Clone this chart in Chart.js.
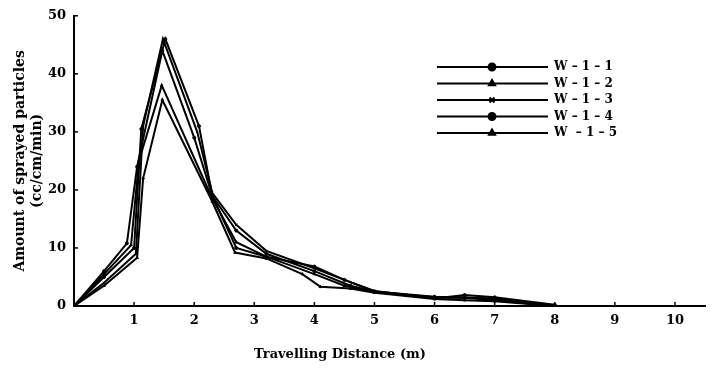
<!DOCTYPE html>
<html>
<head>
<meta charset="utf-8">
<script src="https://cdn.jsdelivr.net/npm/chart.js@4"></script>
<style>
html,body{margin:0;padding:0;background:#fff;}
#wrap{width:718px;height:368px;}
</style>
</head>
<body>
<div id="wrap"><canvas id="c" width="718" height="368"></canvas></div>
<script>
// ---- data ----
const seriesLabels = ['W \u2013 1 \u2013 1', 'W \u2013 1 \u2013 2', 'W \u2013 1 \u2013 3', 'W \u2013 1 \u2013 4', 'W  \u2013 1 \u2013 5'];
const seriesMarkers = ['circle', 'triangle', 'crossRot', 'circle', 'triangle'];

const w11x = [0, 0.5, 1.0, 1.12, 1.52, 2.08, 2.3, 2.7, 3.2, 4.0, 4.6, 5.0, 6.0, 6.5, 7.0, 8.0];
const w11y = [0, 5, 10, 30.5, 46, 31, 19, 13, 9, 6, 3.5, 2.5, 1.3, 1.9, 1.5, 0.2];

const w12x = [0, 0.5, 0.95, 1.08, 1.46, 2.28, 2.7, 3.2, 4.0, 4.5, 5.0, 6.0, 6.5, 7.0, 8.0];
const w12y = [0, 5.5, 10.5, 25, 38, 19, 11, 8.5, 5.5, 3.5, 2.4, 1.5, 1.5, 1.2, 0];

const w13x = [0, 0.5, 1.03, 1.15, 1.48, 2.05, 2.3, 2.7, 3.2, 4.0, 4.5, 5.0, 6.0, 6.5, 7.0, 8.0];
const w13y = [0, 4, 9, 31, 46, 30, 19.5, 14, 9.5, 6.5, 4.5, 2.6, 1.4, 1.4, 1.0, 0];

const w14x = [0, 0.5, 0.88, 1.05, 1.47, 2.0, 2.3, 2.7, 3.2, 4.0, 4.5, 5.0, 6.0, 6.5, 7.0, 8.0];
const w14y = [0, 6, 10.8, 24, 44, 29, 19, 10, 8.5, 6.8, 4.5, 2.5, 1.6, 1.4, 1.3, 0.1];

const w15x = [0, 0.5, 1.05, 1.15, 1.47, 2.3, 2.68, 3.2, 3.8, 4.1, 4.6, 5.0, 6.0, 6.5, 7.0, 8.0];
const w15y = [0, 3.5, 8.3, 22, 35.5, 18, 9.2, 8.2, 5.5, 3.3, 3.0, 2.3, 1.2, 1.0, 0.8, 0];

const xTickValues = [1, 2, 3, 4, 5, 6, 7, 8, 9, 10];
const yTickValues = [0, 10, 20, 30, 40, 50];

const xTitle = 'Travelling Distance (m)';
const yTitle = ['Amount of sprayed particles', '(cc/cm/min)'];

// ---- build ----
const xsAll = [w11x, w12x, w13x, w14x, w15x];
const ysAll = [w11y, w12y, w13y, w14y, w15y];
const FONT = '"DejaVu Serif", "Liberation Serif", serif';

const datasets = xsAll.map((xs, i) => ({
  label: seriesLabels[i],
  data: xs.map((x, j) => ({x: x, y: ysAll[i][j]})),
  borderColor: '#000',
  backgroundColor: '#000',
  borderWidth: 2,
  pointStyle: seriesMarkers[i],
  pointRadius: 1.5,
  pointBorderWidth: 1,
  tension: 0
}));

const decor = {
  id: 'decor',
  afterDraw(chart) {
    const ctx = chart.ctx;
    const xs = chart.scales.x, ys = chart.scales.y;
    const a = chart.chartArea;
    ctx.save();
    ctx.strokeStyle = '#000';
    ctx.lineWidth = 1.5;
    // inward ticks
    xTickValues.forEach(v => {
      const px = xs.getPixelForValue(v);
      ctx.beginPath(); ctx.moveTo(px, a.bottom); ctx.lineTo(px, a.bottom - 4); ctx.stroke();
    });
    yTickValues.forEach(v => {
      const py = ys.getPixelForValue(v);
      ctx.beginPath(); ctx.moveTo(a.left, py); ctx.lineTo(a.left + 4, py); ctx.stroke();
    });
    // x title
    ctx.fillStyle = '#000';
    ctx.font = 'bold 13px ' + FONT;
    ctx.textAlign = 'center';
    ctx.textBaseline = 'middle';
    ctx.fillText(xTitle, 340, 355);
    // legend
    chart.data.datasets.forEach((ds, i) => {
      const y = 67 + i * 16.5;
      ctx.lineWidth = 2;
      ctx.beginPath(); ctx.moveTo(437, y); ctx.lineTo(548, y); ctx.stroke();
      Chart.helpers.drawPoint(ctx, {pointStyle: ds.pointStyle, radius: 3.5, rotation: 0, borderWidth: 1.5}, 492, y);
      ctx.fillStyle = '#000';
      ctx.fill();
      ctx.font = 'bold 12px ' + FONT;
      ctx.textAlign = 'left';
      ctx.textBaseline = 'middle';
      ctx.fillText(ds.label, 554, y);
    });
    ctx.restore();
  }
};

new Chart(document.getElementById('c'), {
  type: 'line',
  data: {datasets: datasets},
  options: {
    responsive: false,
    animation: false,
    layout: {padding: {top: 10, right: 13, left: 12, bottom: 0}},
    plugins: {legend: {display: false}, tooltip: {enabled: false}},
    scales: {
      x: {
        type: 'linear',
        min: 0, max: 10.5,
        afterBuildTicks: s => { s.ticks = xTickValues.map(v => ({value: v})); },
        afterFit: s => { s.height = 62; },
        grid: {display: false, drawTicks: false},
        border: {color: '#000', width: 2},
        ticks: {color: '#000', font: {family: FONT, size: 13, weight: 'bold'}, padding: 7, maxRotation: 0},
        title: {display: false}
      },
      y: {
        type: 'linear',
        min: 0, max: 50,
        afterBuildTicks: s => { s.ticks = yTickValues.map(v => ({value: v})); },
        afterFit: s => { s.width = 62; },
        grid: {display: false, drawTicks: false},
        border: {color: '#000', width: 2},
        ticks: {color: '#000', font: {family: FONT, size: 13, weight: 'bold'}, padding: 8},
        title: {display: true, text: yTitle, color: '#000', font: {family: FONT, size: 14, weight: 'bold'}, padding: {top: 0, bottom: 2}}
      }
    }
  },
  plugins: [decor]
});
</script>
</body>
</html>
